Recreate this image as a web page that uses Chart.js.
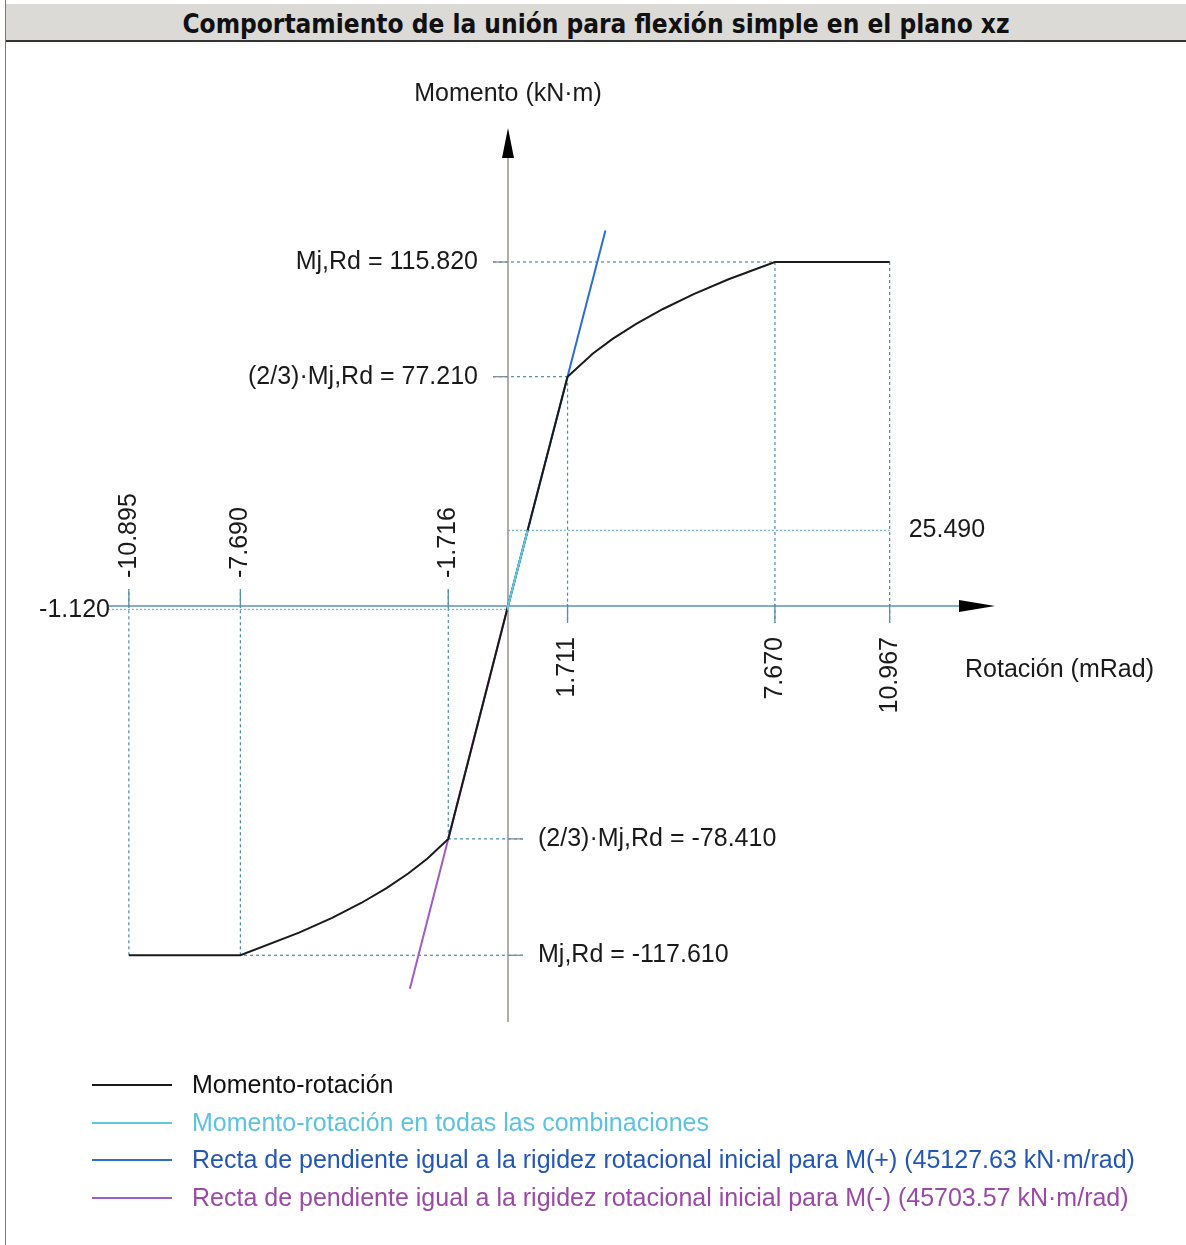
<!DOCTYPE html>
<html>
<head>
<meta charset="utf-8">
<script src="https://cdn.jsdelivr.net/npm/chart.js@4.4.0/dist/chart.umd.min.js"></script>
<style>
  body { margin: 0; background: #fff; width: 1186px; height: 1245px; position: relative; overflow: hidden; }
  #marco { position: absolute; left: 5px; top: 0; width: 1px; height: 1245px; background: #777; }
  #titulo { position: absolute; left: 6px; top: 4px; width: 1180px; height: 36px; background: #dcdad6;
    border-bottom: 2px solid #333; font: bold 26px "DejaVu Sans Condensed", "DejaVu Sans", sans-serif;
    color: #111; text-align: center; line-height: 40px; }
  #grafico { position: absolute; left: 0; top: 0; }
  .leyenda { position: absolute; left: 92px; font: 25px "Liberation Sans", Arial, sans-serif; }
  .leyenda div { position: relative; height: 37.5px; line-height: 37.5px; padding-left: 100px; white-space: nowrap; }
  .leyenda span { position: absolute; left: 0; top: 18px; width: 80px; height: 2px; }
</style>
</head>
<body>
<canvas id="grafico" width="1186" height="1245"></canvas>
<div id="marco"></div>
<div id="titulo">Comportamiento de la unión para flexión simple en el plano xz</div>
<div class="leyenda" id="leyenda" style="top:1066px"></div>
<script>
// Curva momento-rotación (mRad, kN·m)
const rotCurva = [-10.895, -7.690, -6.004, -5.054, -4.219, -3.490, -2.858, -2.313, -1.716, 0, 1.711, 2.441, 3.016, 3.684, 4.455, 5.336, 6.338, 7.670, 10.967];
const momCurva = [-117.61, -117.61, -110, -105, -100, -95, -90, -85, -78.41, 0, 77.21, 85, 90, 95, 100, 105, 110, 115.82, 115.82];

// Momento-rotación en todas las combinaciones
const rotComb = [-0.025, 0, 0.565];
const momComb = [-1.12, 0, 25.49];

// Rectas de rigidez rotacional inicial
const rotRigPos = [0, 2.80];
const momRigPos = [0, 126.4];
const rotRigNeg = [0, -2.82];
const momRigNeg = [0, -128.9];

// Etiquetas de los ejes
const ticksRotNeg = [-10.895, -7.690, -1.716];
const ticksRotPos = [1.711, 7.670, 10.967];
const ticksMomPos = [115.82, 77.21];
const ticksMomNeg = [-78.41, -117.61];
const etiquetasMomPos = ["Mj,Rd = 115.820", "(2/3)·Mj,Rd = 77.210"];
const etiquetasMomNeg = ["(2/3)·Mj,Rd = -78.410", "Mj,Rd = -117.610"];
const momCombMax = 25.49;
const momCombMin = -1.12;

const leyenda = [
  { texto: "Momento-rotación", linea: "#1a1a1a", color: "#111111" },
  { texto: "Momento-rotación en todas las combinaciones", linea: "#5ec8e2", color: "#5cc3df" },
  { texto: "Recta de pendiente igual a la rigidez rotacional inicial para M(+) (45127.63 kN·m/rad)", linea: "#2a6fd0", color: "#2456b6" },
  { texto: "Recta de pendiente igual a la rigidez rotacional inicial para M(-) (45703.57 kN·m/rad)", linea: "#a05cc4", color: "#9a4aa6" }
];

function puntos(xs, ys) {
  return xs.map((x, i) => ({ x: x, y: ys[i] }));
}

const FUENTE = '25px "Liberation Sans", Arial, sans-serif';
const GUIA = "#4d8aa5";

const dibujoEjes = {
  id: 'dibujoEjes',
  beforeDatasetsDraw(chart) {
    const ctx = chart.ctx;
    const sx = chart.scales.x, sy = chart.scales.y;
    const X = v => sx.getPixelForValue(v);
    const Y = v => sy.getPixelForValue(v);
    const x0 = X(0), y0 = Y(0);

    ctx.save();
    // guias punteadas
    ctx.strokeStyle = GUIA;
    ctx.lineWidth = 1.2;
    ctx.setLineDash([3, 3]);
    function seg(a, b, c, d) {
      ctx.beginPath(); ctx.moveTo(a, b); ctx.lineTo(c, d); ctx.stroke();
    }
    seg(x0 - 15, Y(ticksMomPos[0]), X(ticksRotPos[2]), Y(ticksMomPos[0]));
    seg(x0 - 15, Y(ticksMomPos[1]), X(ticksRotPos[0]), Y(ticksMomPos[1]));
    seg(x0 + 15, Y(ticksMomNeg[0]), X(ticksRotNeg[2]), Y(ticksMomNeg[0]));
    seg(x0 + 15, Y(ticksMomNeg[1]), X(ticksRotNeg[1]), Y(ticksMomNeg[1]));
    seg(X(ticksRotPos[0]), Y(ticksMomPos[1]), X(ticksRotPos[0]), y0 + 17);
    seg(X(ticksRotPos[1]), Y(ticksMomPos[0]), X(ticksRotPos[1]), y0 + 17);
    seg(X(ticksRotPos[2]), Y(ticksMomPos[0]), X(ticksRotPos[2]), y0 + 17);
    seg(X(ticksRotNeg[2]), Y(ticksMomNeg[0]), X(ticksRotNeg[2]), y0 - 17);
    seg(X(ticksRotNeg[1]), Y(ticksMomNeg[1]), X(ticksRotNeg[1]), y0 - 17);
    seg(X(ticksRotNeg[0]), Y(ticksMomNeg[1]), X(ticksRotNeg[0]), y0 - 17);
    ctx.strokeStyle = "#5aa9cf";
    ctx.lineWidth = 1;
    ctx.setLineDash([2, 2]);
    seg(x0, Y(momCombMax), X(ticksRotPos[2]), Y(momCombMax));
    seg(sx.left, Y(momCombMin), x0, Y(momCombMin));
    ctx.setLineDash([]);

    // ejes
    ctx.lineWidth = 1.3;
    ctx.strokeStyle = "#5b93ad";
    seg(sx.left, y0, sx.right - 30, y0);
    ctx.strokeStyle = "#8a7f7a";
    seg(x0, sy.bottom, x0, sy.top + 25);

    // marcas
    ctx.strokeStyle = "#5b8ea6";
    ticksRotNeg.forEach(v => seg(X(v), y0 - 17, X(v), y0 + 2));
    ticksRotPos.forEach(v => seg(X(v), y0 - 2, X(v), y0 + 17));
    ctx.strokeStyle = "#7d8e98";
    ticksMomPos.forEach(v => seg(x0 - 15, Y(v), x0, Y(v)));
    ticksMomNeg.forEach(v => seg(x0, Y(v), x0 + 15, Y(v)));

    // flechas
    ctx.fillStyle = "#000";
    ctx.beginPath();
    ctx.moveTo(sx.right, y0); ctx.lineTo(sx.right - 36, y0 - 6); ctx.lineTo(sx.right - 36, y0 + 6);
    ctx.closePath(); ctx.fill();
    ctx.beginPath();
    ctx.moveTo(x0, sy.top); ctx.lineTo(x0 - 6, sy.top + 30); ctx.lineTo(x0 + 6, sy.top + 30);
    ctx.closePath(); ctx.fill();

    // textos
    ctx.fillStyle = "#1a1a1a";
    ctx.font = FUENTE;
    ctx.textBaseline = "middle";
    ctx.textAlign = "right";
    ticksMomPos.forEach((v, i) => ctx.fillText(etiquetasMomPos[i], x0 - 30, Y(v)));
    ctx.fillText(momCombMin.toFixed(3), sx.left + 2, Y(momCombMin) + 1);
    ctx.textAlign = "left";
    ticksMomNeg.forEach((v, i) => ctx.fillText(etiquetasMomNeg[i], x0 + 30, Y(v)));
    ctx.fillText(momCombMax.toFixed(3), X(ticksRotPos[2]) + 19, Y(momCombMax));
    ctx.textAlign = "center";
    ctx.fillText("Momento (kN·m)", x0, 94);
    ctx.textAlign = "left";
    ctx.fillText("Rotación (mRad)", 965, 670);

    ticksRotNeg.forEach(v => {
      ctx.save();
      ctx.translate(X(v), y0 - 28);
      ctx.rotate(-Math.PI / 2);
      ctx.textAlign = "left";
      ctx.fillText(v.toFixed(3), 0, 0);
      ctx.restore();
    });
    ticksRotPos.forEach(v => {
      ctx.save();
      ctx.translate(X(v), y0 + 31);
      ctx.rotate(-Math.PI / 2);
      ctx.textAlign = "right";
      ctx.fillText(v.toFixed(3), 0, 0);
      ctx.restore();
    });
    ctx.restore();
  }
};

new Chart(document.getElementById("grafico"), {
  type: 'scatter',
  data: {
    datasets: [
      { data: puntos(rotComb, momComb), borderColor: '#5ec8e2', borderWidth: 2.2, order: 0 },
      { data: puntos(rotCurva, momCurva), borderColor: '#1a1a1a', borderWidth: 2, order: 1 },
      { data: puntos(rotRigPos, momRigPos), borderColor: '#2a6fd0', borderWidth: 2, order: 2 },
      { data: puntos(rotRigNeg, momRigNeg), borderColor: '#a05cc4', borderWidth: 2, order: 2 }
    ]
  },
  options: {
    responsive: false,
    animation: false,
    showLine: true,
    elements: { point: { radius: 0 }, line: { tension: 0, fill: false } },
    layout: { padding: { left: 108, right: 191, top: 128, bottom: 223 } },
    plugins: { legend: { display: false }, tooltip: { enabled: false } },
    scales: {
      x: { type: 'linear', min: -11.494, max: 13.994, display: false },
      y: { type: 'linear', min: -140.07, max: 160.94, display: false }
    }
  },
  plugins: [dibujoEjes]
});

const cont = document.getElementById("leyenda");
leyenda.forEach(l => {
  const fila = document.createElement("div");
  fila.style.color = l.color;
  fila.innerHTML = '<span style="background:' + l.linea + '"></span>' + l.texto;
  cont.appendChild(fila);
});
</script>
</body>
</html>
